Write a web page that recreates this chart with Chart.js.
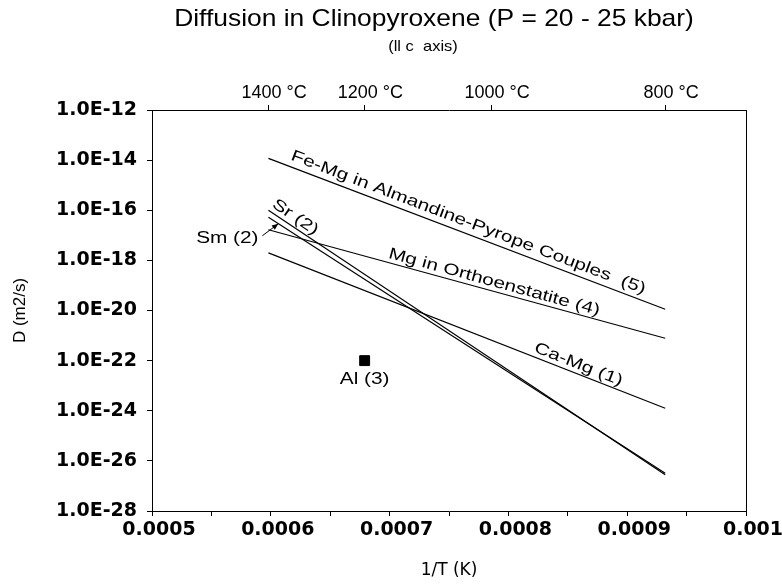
<!DOCTYPE html>
<html>
<head>
<meta charset="utf-8">
<title>Diffusion in Clinopyroxene</title>
<script src="https://cdn.jsdelivr.net/npm/chart.js@4.4.1/dist/chart.umd.min.js"></script>
<style>
  html, body { margin: 0; padding: 0; background: #fff; }
</style>
</head>
<body>
<canvas id="myChart" width="782" height="587"></canvas>
<script>
// 1/T (K) where the Arrhenius lines start (1400 °C) and end (800 °C)
const lineX = [0.000598, 0.000932];

// D (m2/s) at the two ends of each line
const feMgGarnet = [1.17e-14, 1.12e-20];   // Fe-Mg in Almandine-Pyrope Couples (5)
const mgOpx      = [1.66e-17, 7.8e-22];    // Mg in Orthoenstatite (4)
const caMg       = [2.0e-18, 1.26e-24];    // Ca-Mg (1)
const srCpx      = [1.0e-16, 2.8e-27];     // Sr (2)
const smCpx      = [5.2e-17, 3.2e-27];     // Sm (2)

// single Al measurement (3)
const alX = [0.000679];
const alD = [1.0e-22];

// axis ticks
const xTickVals   = [0.0005, 0.0006, 0.0007, 0.0008, 0.0009, 0.001];
const xTickLabels = ['0.0005', '0.0006', '0.0007', '0.0008', '0.0009', '0.001'];
const yTickVals   = [1e-12, 1e-14, 1e-16, 1e-18, 1e-20, 1e-22, 1e-24, 1e-26, 1e-28];
const topTempsC   = [1400, 1200, 1000, 800];

const chartTitle = 'Diffusion in Clinopyroxene (P = 20 - 25 kbar)';
const chartSubtitle = '(ll c  axis)';

const ARIAL = "'Liberation Sans', Arial, Helvetica, sans-serif";
const WIDE = "'DejaVu Sans', Verdana, sans-serif";
const black = '#000';

function pts(xs, ys) {
    return xs.map(function(x, i) { return { x: x, y: ys[i] }; });
}

function lineSet(label, ys) {
    return {
        type: 'line',
        label: label,
        data: pts(lineX, ys),
        borderColor: black,
        borderWidth: 1.2,
        pointRadius: 0,
        fill: false,
        tension: 0
    };
}

// the scanned lettering is a little wider than Arial, so stretch it
function wideText(c, text, x, y, angle, sx, dy) {
    c.save();
    c.translate(x, y);
    c.rotate(angle);
    c.scale(sx, 1);
    c.fillText(text, 0, dy);
    c.restore();
}

// labels written along the lines
const lineLabels = [
    { ds: 0, text: 'Fe-Mg in Almandine-Pyrope Couples  (5)', t: 0.494, off: 11 },
    { ds: 1, text: 'Mg in Orthoenstatite (4)', t: 0.563, off: 9 },
    { ds: 2, text: 'Ca-Mg (1)', t: 0.773, off: 9 },
    { ds: 3, text: 'Sr (2)', t: 0.055, off: 9 }
];

const annotate = {
    id: 'annotate',
    afterDatasetsDraw: function(chart) {
        const c = chart.ctx;
        const xs = chart.scales.x, ys = chart.scales.y;
        const area = chart.chartArea;
        c.save();
        c.fillStyle = black;
        c.strokeStyle = black;
        c.font = '16px ' + ARIAL;
        c.textAlign = 'center';
        c.textBaseline = 'middle';

        lineLabels.forEach(function(l) {
            const d = chart.data.datasets[l.ds].data;
            const x0 = xs.getPixelForValue(d[0].x), y0 = ys.getPixelForValue(d[0].y);
            const x1 = xs.getPixelForValue(d[1].x), y1 = ys.getPixelForValue(d[1].y);
            const a = Math.atan2(y1 - y0, x1 - x0);
            wideText(c, l.text, x0 + l.t * (x1 - x0), y0 + l.t * (y1 - y0), a, 1.3, -l.off);
        });

        // Sm (2) with arrow to the start of its line
        const sm = chart.data.datasets[4].data;
        const sx0 = xs.getPixelForValue(sm[0].x), sy0 = ys.getPixelForValue(sm[0].y);
        const sx1 = xs.getPixelForValue(sm[1].x), sy1 = ys.getPixelForValue(sm[1].y);
        const tx = sx0 + 0.025 * (sx1 - sx0), ty = sy0 + 0.025 * (sy1 - sy0);
        wideText(c, 'Sm (2)', tx - 51, ty + 15, 0, 1.3, 0);
        const ax = tx - 16, ay = ty + 12;
        c.lineWidth = 1;
        c.beginPath();
        c.moveTo(ax, ay);
        c.lineTo(tx, ty);
        c.stroke();
        const ang = Math.atan2(ty - ay, tx - ax);
        c.beginPath();
        c.moveTo(tx, ty);
        c.lineTo(tx - 7 * Math.cos(ang - 0.4), ty - 7 * Math.sin(ang - 0.4));
        c.lineTo(tx - 7 * Math.cos(ang + 0.4), ty - 7 * Math.sin(ang + 0.4));
        c.closePath();
        c.fill();

        // Al (3) under its point
        const al = chart.data.datasets[5].data[0];
        wideText(c, 'Al (3)', xs.getPixelForValue(al.x), ys.getPixelForValue(al.y) + 19, 0, 1.3, 0);

        // right frame line
        c.lineWidth = 1;
        c.beginPath();
        c.moveTo(area.right + 0.5, area.top);
        c.lineTo(area.right + 0.5, area.bottom);
        c.stroke();

        // title and subtitle
        c.font = '24px ' + ARIAL;
        wideText(c, chartTitle, 434, 19, 0, 1.1, 0);
        c.font = '15px ' + ARIAL;
        wideText(c, chartSubtitle, 423, 47, 0, 1.1, 0);
        c.restore();
    }
};

const ctx = document.getElementById('myChart').getContext('2d');

new Chart(ctx, {
    type: 'scatter',
    data: {
        datasets: [
            lineSet('Fe-Mg in Almandine-Pyrope Couples (5)', feMgGarnet),
            lineSet('Mg in Orthoenstatite (4)', mgOpx),
            lineSet('Ca-Mg (1)', caMg),
            lineSet('Sr (2)', srCpx),
            lineSet('Sm (2)', smCpx),
            {
                label: 'Al (3)',
                data: pts(alX, alD),
                pointStyle: 'rect',
                pointRadius: 7,
                backgroundColor: black,
                borderColor: black
            }
        ]
    },
    options: {
        responsive: false,
        animation: false,
        layout: { padding: { left: 0, right: 36, top: 56, bottom: 0 } },
        plugins: {
            legend: { display: false },
            tooltip: { enabled: false },
            title: { display: false }
        },
        scales: {
            x: {
                type: 'linear',
                position: 'bottom',
                min: 0.0005,
                max: 0.001,
                afterBuildTicks: function(s) {
                    const t = [];
                    for (let i = 0; i < xTickVals.length; i++) {
                        t.push({ value: xTickVals[i] });
                        if (i < xTickVals.length - 1) t.push({ value: (xTickVals[i] + xTickVals[i + 1]) / 2 });
                    }
                    s.ticks = t;
                },
                afterFit: function(s) { s.height = 76; },
                ticks: {
                    autoSkip: false,
                    maxRotation: 0,
                    color: black,
                    padding: 3,
                    labelOffset: 7,
                    font: { family: WIDE, size: 19, weight: 'bold' },
                    callback: function(v) {
                        const i = xTickVals.findIndex(function(x) { return Math.abs(x - v) < 1e-9; });
                        return i >= 0 ? xTickLabels[i] : '';
                    }
                },
                grid: { drawOnChartArea: false, drawTicks: true, tickLength: 5, color: black },
                border: { display: true, color: black, width: 1 },
                title: {
                    display: true,
                    text: '1/T (K)',
                    color: black,
                    font: { family: WIDE, size: 17 },
                    padding: { top: 0, bottom: 6 }
                }
            },
            xTop: {
                type: 'linear',
                position: 'top',
                min: 0.0005,
                max: 0.001,
                afterBuildTicks: function(s) {
                    s.ticks = topTempsC.map(function(t) { return { value: 1 / (t + 273.15) }; });
                },
                afterFit: function(s) { s.height = 54; },
                ticks: {
                    autoSkip: false,
                    maxRotation: 0,
                    color: black,
                    padding: 1,
                    labelOffset: 6,
                    font: { family: ARIAL, size: 18 },
                    callback: function(v) {
                        const t = Math.round(1 / v - 273.15);
                        return t + ' °C';
                    }
                },
                grid: { drawOnChartArea: false, drawTicks: true, tickLength: 5, color: black },
                border: { display: true, color: black, width: 1 }
            },
            y: {
                type: 'logarithmic',
                min: 1e-28,
                max: 1e-12,
                afterBuildTicks: function(s) {
                    s.ticks = yTickVals.map(function(v) { return { value: v }; });
                },
                afterFit: function(s) { s.width = 152; },
                ticks: {
                    autoSkip: false,
                    color: black,
                    padding: 10,
                    font: { family: WIDE, size: 19, weight: 'bold' },
                    callback: function(v) { return v.toExponential(1).toUpperCase(); }
                },
                grid: { drawOnChartArea: false, drawTicks: true, tickLength: 5, color: black },
                border: { display: true, color: black, width: 1 },
                title: {
                    display: true,
                    text: 'D (m2/s)',
                    color: black,
                    font: { family: ARIAL, size: 17 },
                    padding: { top: 10, bottom: 0 }
                }
            }
        }
    },
    plugins: [annotate]
});
</script>
</body>
</html>
